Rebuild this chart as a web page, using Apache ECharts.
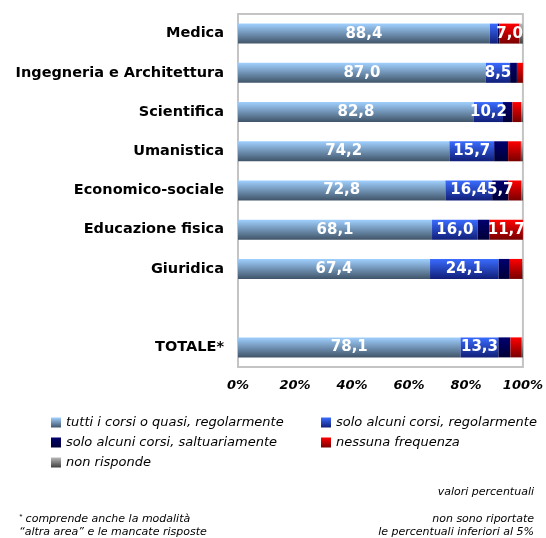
<!DOCTYPE html>
<html>
<head>
<meta charset="utf-8">
<script src="https://cdn.jsdelivr.net/npm/echarts@6/dist/echarts.min.js"></script>
<style>
  html, body { margin: 0; padding: 0; background: #fff; }
  #main { width: 546px; height: 538px; }
</style>
</head>
<body>
<div id="main"></div>
<script>
// categories top to bottom, the empty one is the gap before the total
const categories = ['Medica', 'Ingegneria e Architettura', 'Scientifica', 'Umanistica',
  'Economico-sociale', 'Educazione fisica', 'Giuridica', '', 'TOTALE*'];

const tuttiCorsi = [88.4, 87.0, 82.8, 74.2, 72.8, 68.1, 67.4, null, 78.1];
const soloRegolarmente = [2.8, 8.5, 10.2, 15.7, 16.4, 16.0, 24.1, null, 13.3];
const soloSaltuariamente = [0.6, 2.4, 3.3, 4.9, 5.7, 4.2, 3.9, null, 4.2];
const nessunaFrequenza = [7.0, 2.1, 3.1, 4.5, 4.6, 11.7, 4.4, null, 4.0];
const nonRisponde = [1.2, 0, 0.6, 0.7, 0.5, 0, 0.2, null, 0.4];

const xTicks = [0, 20, 40, 60, 80, 100];

const FONT = '"DejaVu Sans", Verdana, sans-serif';
const NOTE_FONT = 'italic 11px ' + FONT;

function grad(top, bottom) {
  return {
    type: 'linear', x: 0, y: 0, x2: 0, y2: 1,
    colorStops: [{ offset: 0, color: top }, { offset: 1, color: bottom }]
  };
}

function mkSeries(name, data, color) {
  return {
    name: name,
    type: 'bar',
    stack: 'tot',
    data: data,
    barWidth: 20,
    itemStyle: { color: color },
    label: {
      show: true,
      position: 'inside',
      color: '#fff',
      fontFamily: FONT,
      fontWeight: 'bold',
      fontSize: 15,
      textBorderWidth: 0,
      formatter: function (p) {
        return p.value >= 5 ? p.value.toFixed(1).replace('.', ',') : '';
      }
    }
  };
}

function note(text, pos) {
  return Object.assign({ type: 'text', style: { text: text, font: NOTE_FONT, fill: '#000' } }, pos);
}

const legendText = { fontFamily: FONT, fontStyle: 'italic', fontSize: 13, color: '#000' };

const chart = echarts.init(document.getElementById('main'));
chart.setOption({
  animation: false,
  grid: {
    left: 238, right: 18, top: 14, bottom: 171,
    show: true, borderColor: '#c4c4c4', borderWidth: 2
  },
  xAxis: {
    type: 'value',
    min: 0, max: 100, interval: 20,
    axisLine: { show: false },
    axisTick: { show: false },
    splitLine: { show: false },
    axisLabel: {
      margin: 12,
      color: '#000',
      fontFamily: FONT,
      fontWeight: 'bold',
      fontStyle: 'italic',
      fontSize: 13,
      formatter: function (v) { return xTicks.indexOf(v) >= 0 ? v + '%' : ''; }
    }
  },
  yAxis: {
    type: 'category',
    data: categories,
    inverse: true,
    axisLine: { show: false },
    axisTick: { show: false },
    axisLabel: {
      margin: 14,
      color: '#000',
      fontFamily: FONT,
      fontWeight: 'bold',
      fontSize: 14.5
    }
  },
  legend: [{
    orient: 'vertical', left: 46, top: 411, icon: 'rect',
    itemWidth: 10, itemHeight: 10, itemGap: 7,
    textStyle: legendText,
    data: ['tutti i corsi o quasi, regolarmente', 'solo alcuni corsi, saltuariamente', 'non risponde']
  }, {
    orient: 'vertical', left: 316, top: 411, icon: 'rect',
    itemWidth: 10, itemHeight: 10, itemGap: 7,
    textStyle: legendText,
    data: ['solo alcuni corsi, regolarmente', 'nessuna frequenza']
  }],
  graphic: [
    note('valori percentuali', { right: 12, top: 487 }),
    {
      type: 'text', left: 19, top: 513,
      style: {
        text: '{s|*} comprende anche la modalità',
        font: NOTE_FONT, fill: '#000',
        rich: { s: { fontSize: 8, fontStyle: 'italic', verticalAlign: 'top', padding: [0, 0, 4, 0] } }
      }
    },
    note('“altra area” e le mancate risposte', { left: 19, top: 527 }),
    note('non sono riportate', { right: 12, top: 514 }),
    note('le percentuali inferiori al 5%', { right: 12, top: 527 })
  ],
  series: [
    mkSeries('tutti i corsi o quasi, regolarmente', tuttiCorsi, grad('#a0d0ff', '#405468')),
    mkSeries('solo alcuni corsi, regolarmente', soloRegolarmente, grad('#3a6cff', '#101e78')),
    mkSeries('solo alcuni corsi, saltuariamente', soloSaltuariamente, grad('#00006e', '#000038')),
    mkSeries('nessuna frequenza', nessunaFrequenza, grad('#ff0000', '#780000')),
    mkSeries('non risponde', nonRisponde, grad('#b8b8b8', '#404040'))
  ]
});
</script>
</body>
</html>
